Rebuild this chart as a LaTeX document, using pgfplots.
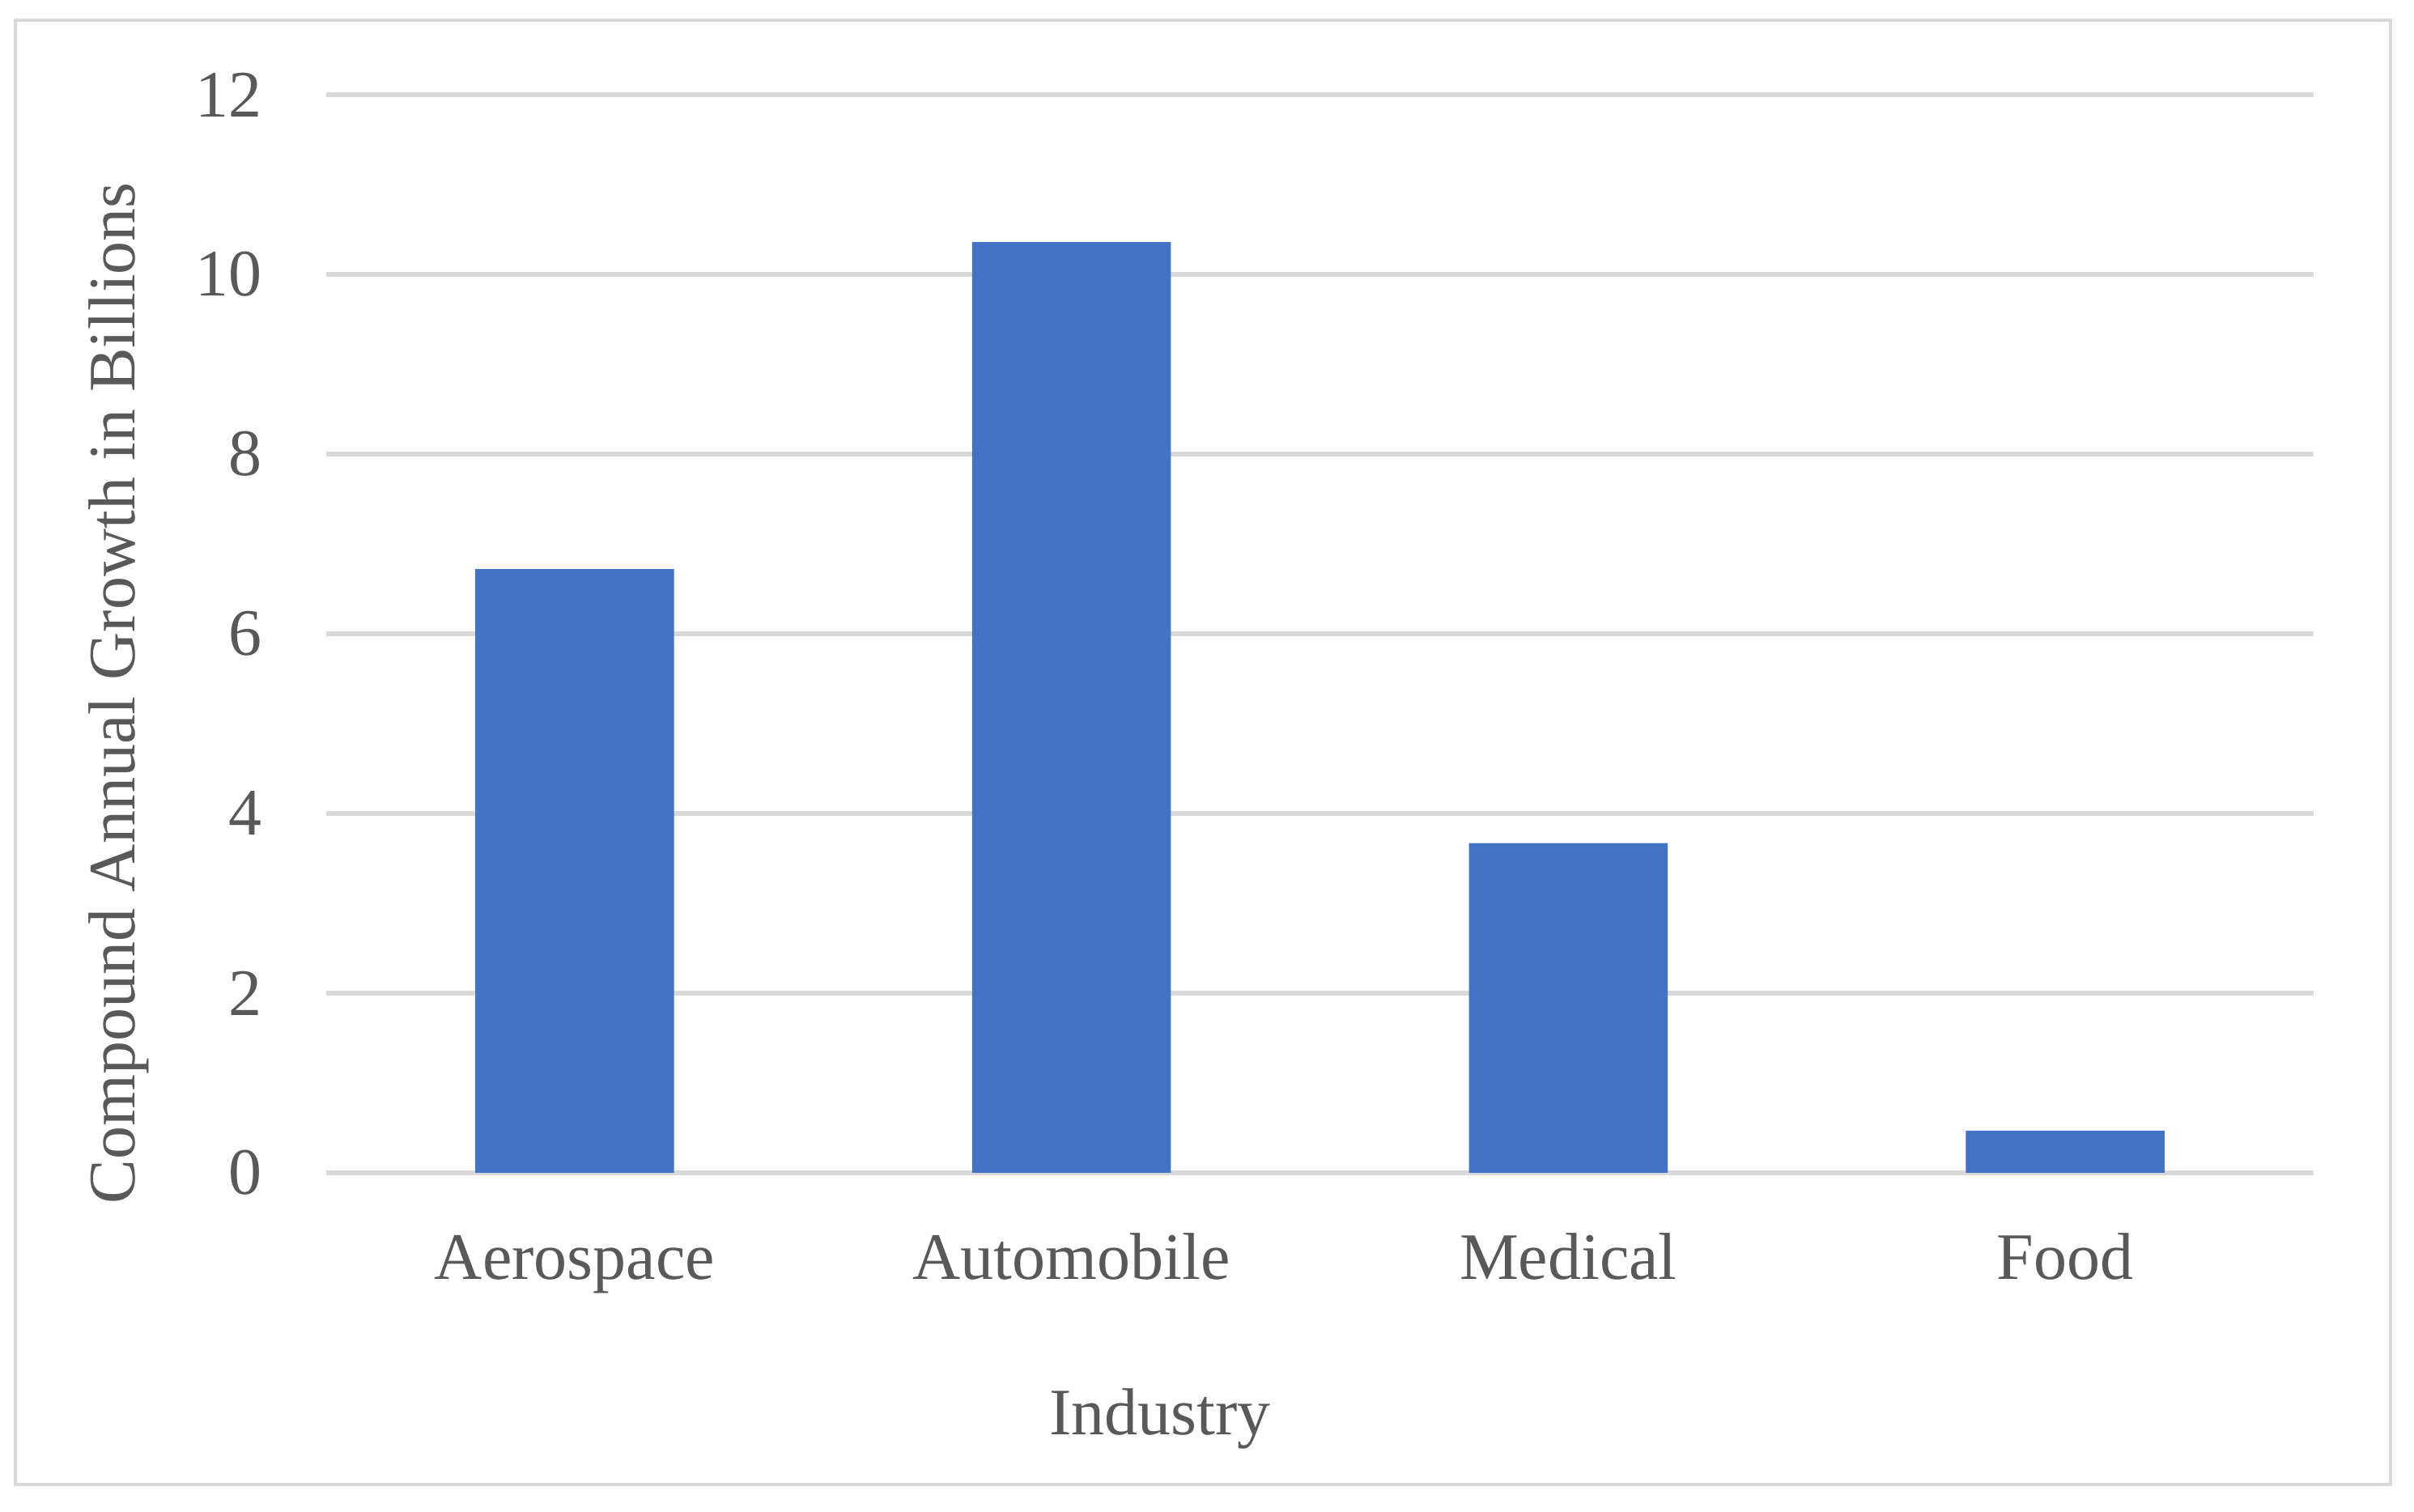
\documentclass[border=0pt]{standalone}
\usepackage{pgfplots}
\pgfplotsset{compat=1.18}
\usepackage{fontspec}
\setmainfont{Liberation Serif}
\definecolor{barblue}{HTML}{4472C4}
\definecolor{txtgray}{HTML}{595959}
\definecolor{gridgray}{HTML}{D9D9D9}
\begin{document}
\begin{tikzpicture}
\useasboundingbox (0,0) rectangle (447.3pt,280.2pt);
\fill[white] (0,0) rectangle (447.3pt,280.2pt);
\draw[gridgray, line width=0.6pt] (2.85pt,5.1pt) rectangle (442.95pt,276.45pt);
\begin{axis}[
  at={(60.45pt,62.85pt)}, anchor=south west,
  scale only axis,
  width=368.25pt, height=199.8pt,
  xmin=-0.5, xmax=3.5,
  ymin=0, ymax=12,
  ytick={0,2,4,6,8,10,12},
  xtick={0,1,2,3},
  xticklabels={Aerospace,Automobile,Medical,Food},
  major tick length=0pt,
  axis line style={draw=none},
  ymajorgrids,
  grid style={gridgray, line width=0.9pt},
  font=\fontsize{12.3}{14}\selectfont,
  /pgf/number format/assume math mode=true,
  tick label style={text=txtgray},
  yticklabel style={anchor=east, inner sep=0pt, xshift=-11.7pt},
  xticklabel style={anchor=base, inner sep=0pt, yshift=-19.8pt},
  xlabel={Industry},
  ylabel={Compound Annual Growth in Billions},
  xlabel style={at={(axis description cs:0.4196,0)}, anchor=base, inner sep=0pt, yshift=-48.6pt, text=txtgray},
  ylabel style={at={(axis description cs:-0.0965,0.445)}, anchor=base, inner sep=0pt, text=txtgray},
  clip=false,
]
\addplot[ybar, bar width=36.8pt, fill=barblue, draw=none] coordinates {
  (0,6.72) (1,10.36) (2,3.67) (3,0.47)
};
\end{axis}
\end{tikzpicture}
\end{document}
